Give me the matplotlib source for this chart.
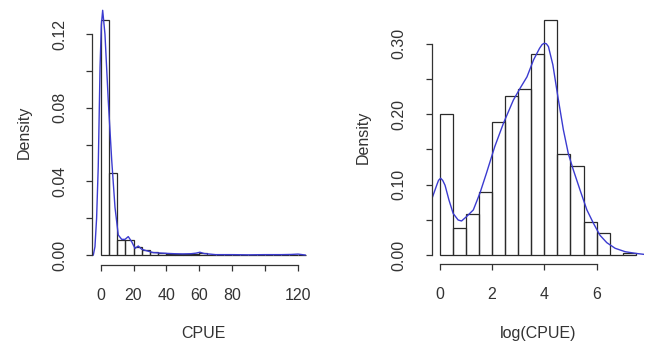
import numpy as np
import matplotlib.pyplot as plt

plt.rcParams['font.family'] = ['Liberation Sans', 'DejaVu Sans']

# histogram of CPUE (bin width 5, density scale)
cpue_breaks = [0, 5, 10, 15, 20, 25, 30, 35, 40, 45, 50, 55, 60, 65, 70, 75, 80,
               85, 90, 95, 100, 105, 110, 115, 120, 125]
cpue_dens = [0.128, 0.0446, 0.0080, 0.0084, 0.0045, 0.0027, 0.0016, 0.0010,
             0.0008, 0.0006, 0.0004, 0.0006, 0.0011, 0.0002, 0.0001, 0.0001,
             0.0001, 0.0, 0.0, 0.0, 0.0001, 0.0, 0.0, 0.0002, 0.0001]

# kernel density of CPUE
cpue_kx = [-4.5, -3.5, -2.5, -1.5, -0.4, 0.4, 1.2, 2.6, 4.6, 6.7, 8.7, 10.7,
           12.8, 14.8, 16.8, 18.9, 20.9, 22.9, 25.0, 28.0, 32.0, 40.0, 45.0,
           50.0, 55.0, 58.0, 60.5, 63.0, 70.0, 80.0, 90.0, 100.0, 110.0, 116.0,
           120.3, 124.6]
cpue_ky = [0.0, 0.0045, 0.020, 0.048, 0.102, 0.125, 0.133, 0.120, 0.084,
           0.0516, 0.026, 0.0109, 0.0085, 0.0085, 0.0100, 0.0072, 0.0036,
           0.0049, 0.0031, 0.0023, 0.0013, 0.0009, 0.0007, 0.0006, 0.0007,
           0.0010, 0.0015, 0.0008, 0.0002, 0.0002, 0.0001, 0.0002, 0.0002,
           0.0003, 0.0005, 0.0]

# histogram of log(CPUE) (bin width 0.5)
log_breaks = [0, 0.5, 1, 1.5, 2, 2.5, 3, 3.5, 4, 4.5, 5, 5.5, 6, 6.5, 7, 7.5]
log_dens = [0.200, 0.0388, 0.0578, 0.089, 0.1885, 0.2263, 0.2353, 0.285,
            0.334, 0.143, 0.127, 0.0464, 0.0308, 0.0, 0.003]

# kernel density of log(CPUE)
log_kx = [-0.31, -0.11, -0.04, 0.04, 0.12, 0.21, 0.36, 0.52, 0.71, 0.84,
          1.03, 1.29, 1.54, 1.79, 2.11, 2.44, 2.82, 3.08, 3.34, 3.59, 3.82,
          3.92, 4.0, 4.08, 4.16, 4.33, 4.52, 4.73, 4.92, 5.11, 5.37, 5.63,
          5.88, 6.13, 6.39, 6.71, 7.09, 7.47, 7.79]
log_ky = [0.078, 0.099, 0.106, 0.109, 0.106, 0.099, 0.078, 0.059, 0.0497,
          0.0483, 0.0545, 0.064, 0.0876, 0.116, 0.154, 0.187, 0.220, 0.237,
          0.253, 0.277, 0.2935, 0.299, 0.3007, 0.300, 0.296, 0.270, 0.225,
          0.178, 0.144, 0.121, 0.092, 0.064, 0.045, 0.028, 0.0175, 0.0095,
          0.0047, 0.0024, 0.001]

W, H = 646, 345
fig = plt.figure(figsize=(W / 100, H / 100), dpi=100)

bar_col = '#2a2a2a'
line_col = '#3b3bd0'


def panel(px_left, px_right, px_top, px_bottom, breaks, dens, kx, ky,
          xlim, ylim, xticks, xlabels, yticks, ylabels, xlab):
    ax = fig.add_axes([px_left / W, 1 - px_bottom / H,
                       (px_right - px_left) / W, (px_bottom - px_top) / H])
    ax.set_xlim(xlim)
    ax.set_ylim(ylim)
    b = np.array(breaks)
    ax.bar(b[:-1], dens, width=np.diff(b), align='edge', fill=False,
           edgecolor=bar_col, linewidth=0.9)
    ax.plot(kx, ky, color=line_col, lw=1.0, solid_joinstyle='round')
    for s in ['top', 'right']:
        ax.spines[s].set_visible(False)
    for s in ['left', 'bottom']:
        ax.spines[s].set_color('#333333')
        ax.spines[s].set_linewidth(0.9)
    ax.spines['left'].set_bounds(yticks[0], yticks[-1])
    ax.spines['bottom'].set_bounds(xticks[0], xticks[-1])
    ax.set_xticks(xticks)
    ax.set_xticklabels(xlabels)
    ax.set_yticks(yticks)
    ax.set_yticklabels(ylabels, rotation=90, va='center')
    ax.tick_params(direction='out', length=4.2, width=0.9, color='#333333',
                   labelsize=11.5, labelcolor='#333333')
    ax.tick_params(axis='x', pad=12)
    ax.tick_params(axis='y', pad=14)
    ax.set_xlabel(xlab, fontsize=11.5, color='#333333', labelpad=17)
    ax.set_ylabel('Density', fontsize=11.5, color='#333333', labelpad=15)
    return ax


panel(92.5, 314, 0, 265, cpue_breaks, cpue_dens, cpue_kx, cpue_ky,
      (-5, 130), (-0.00543, 0.1386),
      [0, 20, 40, 60, 80, 100, 120], ['0', '20', '40', '60', '80', '', '120'],
      [0, 0.02, 0.04, 0.06, 0.08, 0.10, 0.12],
      ['0.00', '', '0.04', '', '0.08', '', '0.12'], 'CPUE')

panel(431.7, 643.7, 10.4, 264.4, log_breaks, log_dens, log_kx, log_ky,
      (-0.3, 7.8), (-0.01336, 0.3474),
      [0, 2, 4, 6], ['0', '2', '4', '6'],
      [0, 0.05, 0.10, 0.15, 0.20, 0.25, 0.30],
      ['0.00', '', '0.10', '', '0.20', '', '0.30'], 'log(CPUE)')

fig.savefig('out.png', dpi=100)
